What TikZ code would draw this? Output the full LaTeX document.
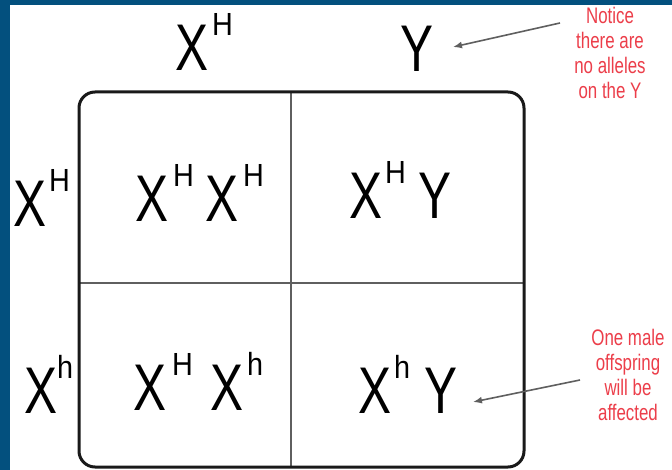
\documentclass[tikz,border=0pt]{standalone}
\usepackage{fontspec}
\usepackage{xcolor}
\usetikzlibrary{arrows.meta}
\setmainfont[FakeStretch=0.75]{Liberation Sans}
\newfontfamily\supfont[FakeStretch=0.9]{Liberation Sans}

\definecolor{slideblue}{RGB}{3,80,126}
\definecolor{notered}{RGB}{236,62,74}
\definecolor{gridgray}{RGB}{95,95,95}

\newcommand{\allele}[2][5pt]{X\hspace{#1}\raisebox{35pt}{\supfont\fontsize{32}{32}\selectfont #2}}

\begin{document}
\begin{tikzpicture}[x=1pt, y=-1pt,
  gene/.style={anchor=base west, inner sep=0pt, font=\fontsize{66}{66}\selectfont},
  note/.style={text=notered, align=center, inner sep=0pt, font=\fontsize{22.5}{25}\selectfont},
  pointer/.style={-{Latex[length=9pt,width=7pt]}, draw=gridgray, line width=1.6pt}]
  \useasboundingbox (0,0) rectangle (672,470);
  \fill[slideblue] (0,0) rectangle (672,470);
  \fill[white] (10,5) rectangle (672,470);

  % the square
  \draw[gridgray, line width=2pt] (291,92) -- (291,467);
  \draw[gridgray, line width=2pt] (79,283) -- (524,283);
  \draw[black!90, line width=3pt, rounded corners=16pt] (79,92) rectangle (524,467);

  % gametes
  \node[gene] at (175,71) (hdXH) {\allele[4pt]{H}};
  \node[gene] at (400,72) (hdY) {Y};
  \node[gene] at (13,227) (rowXH) {\allele[3pt]{H}};
  \node[gene] at (24,413) (rowXh) {\allele[0pt]{h}};

  % offspring
  \node[gene] at (135,222) (cellHH) {\allele{H}\hspace{11pt}\allele{H}};
  \node[gene] at (349,219) (cellHY) {\allele[3pt]{H}\hspace{12pt}Y};
  \node[gene] at (133,410) (cellHh) {\allele[6pt]{H}\hspace{17pt}\allele[4pt]{h}};
  \node[gene] at (358,413) (cellhY) {\allele[3pt]{h}\hspace{14pt}Y};

  % notes
  \node[note] at (610,53) (noteY) {Notice\\there are\\no alleles\\on the Y};
  \node[note] at (628,375) (noteMale) {One male\\offspring\\will be\\affected};

  \coordinate (tailY) at (560,23);
  \coordinate (tipY) at (453,47);
  \coordinate (tailMale) at (580,380);
  \coordinate (tipMale) at (473,402);
  \draw[pointer] (tailY) -- (tipY);
  \draw[pointer] (tailMale) -- (tipMale);
\end{tikzpicture}
\end{document}
